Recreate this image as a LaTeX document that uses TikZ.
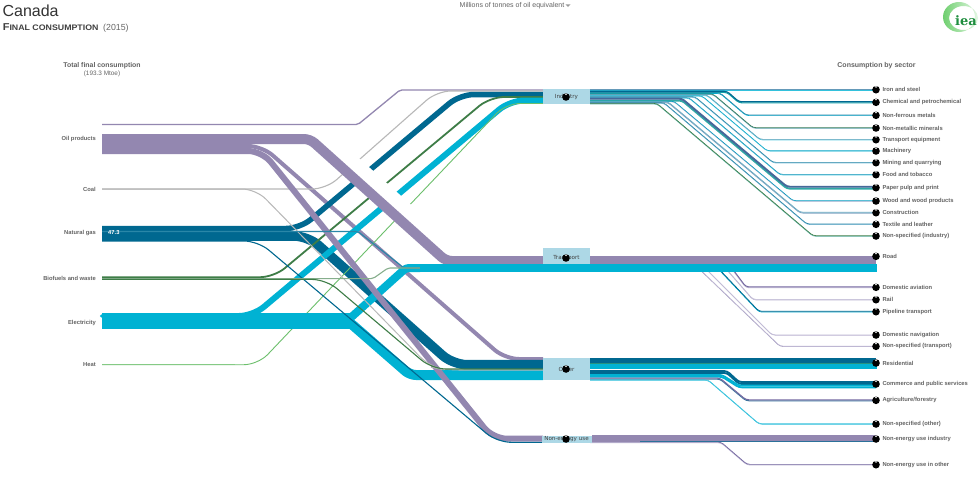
\documentclass[tikz,border=0pt]{standalone}
\usepackage{fontspec}
\usepackage{graphicx}
\setmainfont{Liberation Sans}
\newfontfamily\boxfont{DejaVu Sans}
\newfontfamily\logofont{DejaVu Serif}
\definecolor{cOil}{HTML}{9387B0}
\definecolor{cOilD}{HTML}{7468A0}
\definecolor{cOilL}{HTML}{BDB6D3}
\definecolor{cCoal}{HTML}{B8B8B8}
\definecolor{cGas}{HTML}{006890}
\definecolor{cGasL}{HTML}{2A87A8}
\definecolor{cBio}{HTML}{3E7D47}
\definecolor{cBioL}{HTML}{86AE8C}
\definecolor{cEl}{HTML}{00B2D3}
\definecolor{cHeat}{HTML}{6CBF6C}
\definecolor{cHeatL}{HTML}{B5E0B5}
\definecolor{cBox}{HTML}{ADD8E6}
\definecolor{cLab}{HTML}{636363}
\definecolor{cLogo}{HTML}{1E8E3E}
\definecolor{cLogoA}{HTML}{6FCF6F}
\definecolor{cLogoB}{HTML}{E4F7E4}
\tikzset{
  fl/.style={draw,line cap=butt,line join=round,rounded corners=14pt},
  fls/.style={draw,line cap=butt,line join=round,rounded corners=3pt},
  mbox/.style={fill=cBox,inner sep=0pt},
  mlab/.style={inner sep=0pt,font=\boxfont\fontsize{5.6}{6}\selectfont,text=black!75},
  lab/.style={font=\bfseries\fontsize{5.8}{6}\selectfont,text=cLab,inner sep=0pt},
  dotm/.style={circle,fill=black,inner sep=0pt,minimum size=7.6pt,
    path picture={\draw[white,line width=.55pt] ([xshift=-1.1pt,yshift=3.6pt]path picture bounding box.center)--([yshift=2.2pt]path picture bounding box.center)--([xshift=1.1pt,yshift=3.6pt]path picture bounding box.center);}},
}
% #1 name, #2 y at box, #3 x of first bend, #4 x of second bend, #5 y at sector, #6 upper colour, #7 lower colour, #8 width
\newcommand\secflow[8]{%
  \coordinate (fa#1) at (590,{#2-#8*.25});
  \coordinate (fb#1) at (590,{#2+#8*.25});
  \coordinate (ta#1) at (876,{#5-#8*.25});
  \coordinate (tb#1) at (876,{#5+#8*.25});
  \draw[fls,#7,line width=#8*.5pt] (fb#1) -- (#3,{#2+#8*.25}) -- (#4,{#5+#8*.25}) -- (tb#1);
  \draw[fls,#6,line width=#8*.5pt] (fa#1) -- (#3,{#2-#8*.25}) -- (#4,{#5-#8*.25}) -- (ta#1);
}
% #1 name, #2 y, #3 text
\newcommand\sector[3]{%
  \node[dotm] (s#1) at (876,#2) {};
  \node[lab,anchor=west] (t#1) at (882.3,#2) {#3};
}
\begin{document}
\begin{tikzpicture}[x=1pt,y=-1pt]
\useasboundingbox (0,0) rectangle (980,491);
\fill[white] (0,0) rectangle (980,491);

% ---------- sector flows
\secflow{a}{89.9}{700}{800}{89.9}{cGasL!60!cOilL}{cEl!80}{1.6}
\secflow{b}{91.8}{727}{739}{102.3}{cGas}{cEl!70!cBio}{2.2}
\secflow{c}{93.1}{720}{746}{115.3}{cGasL}{cEl}{1.3}
\secflow{d}{94.2}{713}{753}{128}{cBio!80!cGas}{cGasL!70}{1.3}
\secflow{e}{95.2}{707}{760}{139.7}{cGasL!80}{cEl!60}{1.3}
\secflow{f}{96.1}{702}{767}{151}{cEl!80!cGas}{cEl!50}{1.1}
\secflow{g}{97}{695}{773}{162.7}{cGasL}{cOilL!50!cEl!80}{1.3}
\secflow{h}{97.9}{689}{780}{174.7}{cGasL!60!cEl}{cEl!70}{1.2}
\secflow{i}{99.6}{682}{787}{187.7}{cOilD!60!cGas}{cBio!40!cEl!90}{3.8}
\secflow{j}{101.5}{674}{793}{201}{cEl!70!cGas}{cOilL}{1.2}
\secflow{k}{102.2}{668}{800}{212.7}{cGasL!70}{cOilL!60!cGasL}{1.6}
\secflow{l}{103}{664}{807}{224.3}{cGasL}{cOilL!60!cEl}{1.2}
\secflow{m}{103.7}{657}{813}{236}{cBio}{cEl!50!cBio!70}{1.3}

\secflow{o}{262}{727}{746}{287.3}{cOilD}{cOilL}{1.8}
\secflow{p}{262}{720}{753}{299.7}{cOilL}{cOilL}{1.2}
\secflow{q}{262}{712}{759}{311.7}{cGas}{cEl!80!cGas}{1.5}
\secflow{r}{262}{699}{772}{335}{cOilL}{cOilL}{1}
\secflow{s}{262}{692}{780}{346.3}{cOilL}{cOilD!70}{1}

\secflow{u}{372}{727}{739}{383}{cGas}{cGas}{3.8}
\secflow{v}{375.8}{722}{739}{386.5}{cEl}{cEl}{3.6}
\secflow{w}{378.6}{720}{746}{400.3}{cOilD}{cGas!60!cOil}{2}
\secflow{x}{380}{708}{759}{424}{cEl!80}{cEl!80}{1.1}
\secflow{z}{442.4}{721}{747}{464.7}{cOilD}{cOilL}{1.4}

% ---------- flow end points
\coordinate (oilA) at (102,124.5);  \coordinate (indA) at (543,90);
\coordinate (oilB) at (102,139);    \coordinate (traA) at (543,261);
\coordinate (oilC) at (102,146);    \coordinate (othA) at (543,359);
\coordinate (oilD) at (102,151);    \coordinate (neuA) at (543,438.7);
\coordinate (coaA) at (102,189);    \coordinate (indB) at (543,91);
\coordinate (coaB) at (102,189);    \coordinate (othB) at (543,370);
\coordinate (gasA) at (102,228.5);  \coordinate (indC) at (543,94.5);
\coordinate (gasB) at (102,231.5);  \coordinate (traB) at (543,268);
\coordinate (gasC) at (102,236);    \coordinate (othC) at (543,364.7);
\coordinate (gasD) at (102,241);    \coordinate (neuB) at (543,442.3);
\coordinate (bioA) at (102,277.2);  \coordinate (indD) at (543,97);
\coordinate (bioB) at (102,278.6);  \coordinate (traC) at (543,268);
\coordinate (bioC) at (102,279.4);  \coordinate (othD) at (543,369);
\coordinate (eleA) at (102,316);    \coordinate (indE) at (543,100.5);
\coordinate (eleB) at (102,321);    \coordinate (traD) at (420,268);
\coordinate (eleC) at (102,321);    \coordinate (othE) at (543,375);
\coordinate (heaA) at (102,364.7);  \coordinate (indF) at (543,103.5);

% ---------- bands that pass under everything
\draw[fl,cOil,line width=4pt] (oilC) -- (262,146) -- (505,359) -- (othA);
\draw[fl,cGas,line width=9.5pt] (gasC) -- (308,236) -- (453,364.7) -- (othC);

% ---------- flows to industry
\draw[fl,cOil,line width=1.3pt,rounded corners=2pt] (oilA) -- (358,124.5) -- (400,90) -- (indA);
\draw[fl,cCoal,line width=1.1pt] (coaA) -- (326,189) -- (437,91) -- (indB);
\draw[fl,cGas,line width=5.5pt] (gasA) -- (300,228.5) -- (460,94.5) -- (indC);
\draw[fl,cBio,line width=1.8pt] (bioA) -- (274,277.2) -- (490,97) -- (indD);
\draw[fl,cEl,line width=6pt] (eleA) -- (253,316) -- (510,100.5) -- (indE);
\draw[fl,cHeatL,line width=1.5pt] (heaA) -- (235,364.7);
\draw[fl,cHeat,line width=.9pt] (heaA) -- (258,364.7) -- (506,103.5) -- (indF);

% ---------- gap left beside the road band
\draw[white,line width=14pt,line cap=butt] (347.7,157.4) -- (422.7,224.6);

% ---------- electricity
\fill[cEl] (102,313) rectangle (350,329.2);
\fill[cEl] (101.5,316) circle (1.6pt);
\draw[fl,cEl,line width=8pt,rounded corners=3pt] (eleB) -- (347,321) -- (406,268) -- (traD);
\draw[fl,cEl,line width=10pt,rounded corners=6pt] (eleC) -- (348,321) -- (410,375) -- (othE);

% ---------- oil bands on top
\draw[fl,cOil,line width=6pt] (oilD) -- (262,151) -- (493,438.7) -- (neuA);
\draw[fl,cOil,line width=10pt,rounded corners=6pt] (oilB) -- (310,139) -- (446,261) -- (traA);

% ---------- thin flows
\draw[fl,cCoal,line width=1pt] (coaB) -- (256,189) -- (430,367) -- (445,370) -- (othB);
\draw[fl,cGasL,line width=1.1pt,rounded corners=2pt] (gasB) -- (358,231.5) -- (404,268) -- (traB);
\draw[fl,cGas,line width=1.1pt] (gasD) -- (258,241) -- (497,442.3) -- (neuB);
\draw[fl,cBioL,line width=1.1pt,rounded corners=2pt] (bioB) -- (373,278.6) -- (388,268) -- (traC);
\draw[fl,cBio,line width=1.1pt] (bioC) -- (326,279.4) -- (432,369) -- (othD);

% ---------- middle boxes
\node[mbox,minimum width=47pt,minimum height=15pt] (ind) at (566.5,96.5) {};
\node[mbox,minimum width=47pt,minimum height=16pt] (tra) at (566.5,256) {};
\node[mbox,minimum width=47pt,minimum height=22.6pt] (oth) at (566.5,369) {};
\node[mbox,minimum width=50pt,minimum height=7.4pt] (neu) at (566.5,439.5) {};
\node[mlab] (indL) at (566.5,97) {Industry};
\node[mlab] (traL) at (566.5,258) {Transport};
\node[mlab] (othL) at (566.5,369) {Other};
\node[mlab] (neuL) at (566.5,439.5) {Non-energy use};

% ---------- wide bands right of the boxes
\coordinate (rdA) at (590,260);  \coordinate (rdB) at (876,260);
\coordinate (rdC) at (876.7,268);
\coordinate (reA) at (590,360.5); \coordinate (reB) at (876,360.5);
\coordinate (reC) at (590,366.5); \coordinate (reD) at (876.7,366.5);
\coordinate (reE) at (590,363.7); \coordinate (reF) at (876,363.7);
\coordinate (neA) at (592,438.4); \coordinate (neB) at (876,438.4);
\coordinate (neC) at (640,441.8); \coordinate (neD) at (876,441.8);
\draw[fl,cOil,line width=8pt] (rdA) -- (rdB);
\draw[fl,cEl,line width=8pt] (traD) -- (rdC);
\draw[fl,cGas,line width=5.8pt] (reA) -- (reB);
\draw[fl,cEl,line width=5.2pt] (reC) -- (reD);
\draw[fl,cBio!60!cEl,line width=.7pt] (reE) -- (reF);
\draw[fl,cOil,line width=6.6pt] (neA) -- (neB);
\draw[fl,cGas!70!cOil,line width=.7pt] (neC) -- (neD);

% ---------- left labels
\node[lab,anchor=east] (lOil) at (96,138.8) {Oil products};
\node[lab,anchor=east] (lCoal) at (96,189) {Coal};
\node[lab,anchor=east] (lGas) at (96,233) {Natural gas};
\node[lab,anchor=east] (lBio) at (96,278) {Biofuels and waste};
\node[lab,anchor=east] (lEl) at (96,322.5) {Electricity};
\node[lab,anchor=east] (lHeat) at (96,365) {Heat};
\node[lab,text=white,anchor=west] (vGas) at (108,232.8) {47.3};

% ---------- right side
\sector{a}{89.7}{Iron and steel}
\sector{b}{102.3}{Chemical and petrochemical}
\sector{c}{115.3}{Non-ferrous metals}
\sector{d}{128}{Non-metallic minerals}
\sector{e}{139.7}{Transport equipment}
\sector{f}{151}{Machinery}
\sector{g}{162.7}{Mining and quarrying}
\sector{h}{174.7}{Food and tobacco}
\sector{i}{187.7}{Paper pulp and print}
\sector{j}{201}{Wood and wood products}
\sector{k}{212.7}{Construction}
\sector{l}{224.3}{Textile and leather}
\sector{m}{236}{Non-specified (industry)}
\sector{n}{256.3}{Road}
\sector{o}{287.3}{Domestic aviation}
\sector{p}{299.7}{Rail}
\sector{q}{311.7}{Pipeline transport}
\sector{r}{335}{Domestic navigation}
\sector{s}{346.3}{Non-specified (transport)}
\sector{t}{363}{Residential}
\sector{u}{384}{Commerce and public services}
\sector{w}{400.3}{Agriculture/forestry}
\sector{x}{424}{Non-specified (other)}
\sector{y}{439}{Non-energy use industry}
\sector{z}{464.7}{Non-energy use in other}

% ---------- dots on the boxes
\node[dotm] (dInd) at (566,97) {};
\node[dotm] (dTra) at (566,258) {};
\node[dotm] (dOth) at (566,369) {};
\node[dotm] (dNeu) at (566,439) {};

% ---------- titles
\node[anchor=base west,inner sep=0pt,font=\fontsize{16}{16}\selectfont,text=black!80] (title) at (2.4,16) {Canada};
\node[anchor=base west,inner sep=0pt,text=black!75] (sub) at (2.6,30) {\scalebox{1.1}[1]{\bfseries\fontsize{10}{10}\selectfont F\fontsize{8}{8}\selectfont INAL CONSUMPTION}};
\node[anchor=base west,inner sep=0pt,font=\fontsize{8.8}{9}\selectfont,text=black!60] (year) at (103,30) {(2015)};
\node[anchor=center,inner sep=0pt,font=\fontsize{7}{8}\selectfont,text=cLab] (unit) at (512,5.5) {Millions of tonnes of oil equivalent};
\fill[black!40] (565.5,4.3) -- (570.5,4.3) -- (568,7) -- cycle;
\node[anchor=center,inner sep=0pt,font=\bfseries\fontsize{6.9}{8}\selectfont,text=cLab] (hL) at (102,65.7) {Total final consumption};
\node[anchor=center,inner sep=0pt,font=\fontsize{6.4}{8}\selectfont,text=black!60] (hL2) at (102,74) {(193.3 Mtoe)};
\node[anchor=center,inner sep=0pt,font=\bfseries\fontsize{7}{8}\selectfont,text=cLab] (hR) at (876.5,65.7) {Consumption by sector};

% ---------- logo
\shade[left color=cLogoA,right color=cLogoB,even odd rule]
  (959,17) ellipse (16pt and 15pt) (963.5,18) ellipse (14.5pt and 12pt);
\node[anchor=base,inner sep=0pt,font=\logofont\bfseries\fontsize{13}{13}\selectfont,text=cLogo] (logo) at (966,25) {iea};
\end{tikzpicture}
\end{document}
